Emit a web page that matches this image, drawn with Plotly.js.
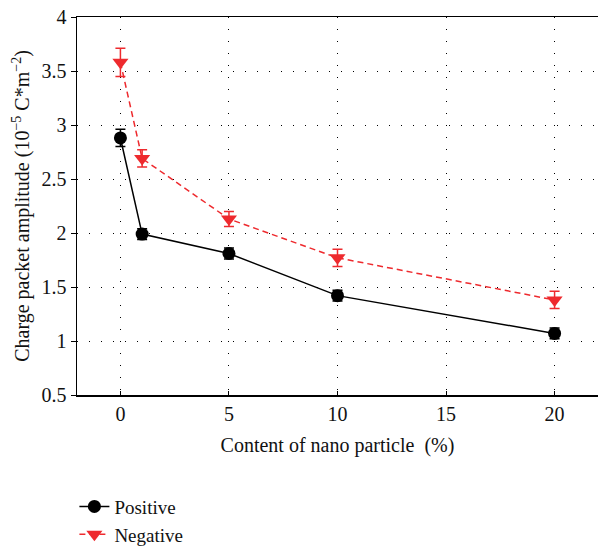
<!DOCTYPE html>
<html><head><meta charset="utf-8">
<script src="https://cdn.plot.ly/plotly-3.0.1.min.js"></script>
<style>html,body{margin:0;padding:0;background:#fff;}#chart{width:598px;height:552px;}</style>
</head><body><div id="chart"></div>
<script>
const content = [0, 1, 5, 10, 20];
const positive = [2.88, 1.99, 1.81, 1.42, 1.07];
const positiveErr = [0.08, 0.05, 0.05, 0.05, 0.05];
const negative = [3.58, 2.69, 2.13, 1.77, 1.38];
const negativeErr = [0.13, 0.08, 0.07, 0.08, 0.08];
const xTicks = [0, 5, 10, 15, 20];
const yTicks = [0.5, 1, 1.5, 2, 2.5, 3, 3.5, 4];
const yTickText = ['0.5', '1', '1.5', '2', '2.5', '3', '3.5', '4'];

const red = '#ee2a2e';
const font = '"Liberation Serif", "Times New Roman", serif';

const traces = [
  {
    x: content, y: positive, name: 'Positive', type: 'scatter', mode: 'lines+markers',
    line: {color: '#000', width: 1.5},
    marker: {symbol: 'circle', size: 13, color: '#000'},
    error_y: {type: 'data', array: positiveErr, visible: true, color: '#000', thickness: 1.5, width: 5}
  },
  {
    x: content, y: negative, name: 'Negative', type: 'scatter', mode: 'lines+markers',
    line: {color: red, width: 1.5, dash: '6px,4px'},
    marker: {symbol: 'triangle-down', size: 14, color: red},
    error_y: {type: 'data', array: negativeErr, visible: true, color: red, thickness: 1.5, width: 5}
  }
];

const layout = {
  width: 598, height: 552,
  margin: {l: 77, r: 0, t: 17, b: 157, autoexpand: false},
  paper_bgcolor: '#fff', plot_bgcolor: '#fff',
  font: {family: font, size: 20, color: '#111'},
  showlegend: true,
  legend: {x: -0.005, xanchor: 'left', y: -0.245, yanchor: 'top', font: {family: font, size: 19, color: '#111'},
           bgcolor: 'rgba(0,0,0,0)', tracegroupgap: 0, itemwidth: 30},
  xaxis: {
    range: [-2, 22], tickvals: xTicks, ticktext: xTicks.map(String),
    ticks: 'inside', ticklen: 4, tickwidth: 1, tickcolor: '#000',
    showline: true, linecolor: '#000', linewidth: 1.5, mirror: true,
    showgrid: true, gridcolor: '#000', gridwidth: 1, griddash: '1px,11px',
    zeroline: false,
    tickfont: {family: font, size: 20, color: '#111'},
    title: {text: 'Content of nano particle  (%)', font: {family: font, size: 20, color: '#111'}, standoff: 14}
  },
  yaxis: {
    range: [0.5, 4], tickvals: yTicks, ticktext: yTickText,
    ticks: 'outside', ticklen: 5, tickwidth: 1, tickcolor: '#000',
    showline: true, linecolor: '#000', linewidth: 1.5,
    showgrid: true, gridcolor: '#000', gridwidth: 1, griddash: '1px,11px',
    zeroline: false,
    tickfont: {family: font, size: 20, color: '#111'},
    title: {text: 'Charge packet amplitude (10<sup>−5</sup> C*m<sup>−2</sup>)', font: {family: font, size: 20, color: '#111'}, standoff: 6}
  }
};

Plotly.newPlot('chart', traces, layout, {staticPlot: true, displayModeBar: false});
</script></body></html>
